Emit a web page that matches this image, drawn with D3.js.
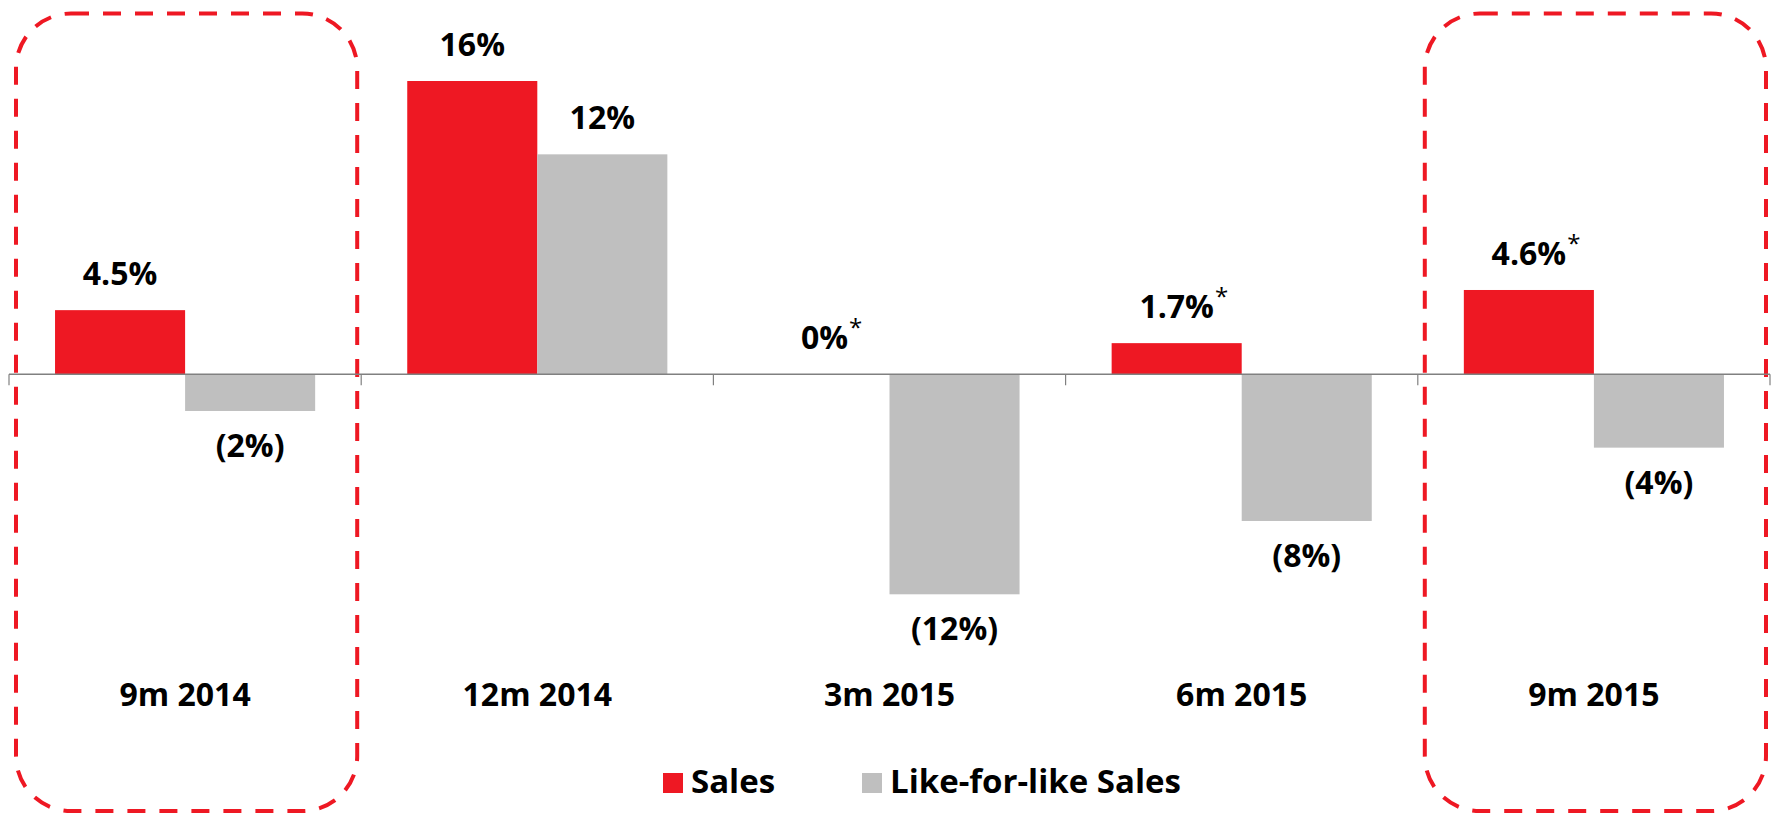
<!DOCTYPE html>
<html>
<head>
<meta charset="utf-8">
<script src="https://cdn.jsdelivr.net/npm/d3@7/dist/d3.min.js"></script>
<style>
  html, body { margin: 0; padding: 0; background: #ffffff; }
  svg { display: block; }
  text { font-family: "Open Sans", "Noto Sans", sans-serif; }
</style>
</head>
<body>
<svg id="chart" width="1773" height="814"></svg>
<script>
// ---- data ----
const categories = ["9m 2014", "12m 2014", "3m 2015", "6m 2015", "9m 2015"];
const seriesNames = ["Sales", "Like-for-like Sales"];
const salesValues = [3.5, 16, 0, 1.7, 4.6];
const lflValues = [-2, 12, -12, -8, -4];
const salesLabels = ["4.5%", "16%", "0%", "1.7%", "4.6%"];
const salesStars = [false, false, true, true, true];
const lflLabels = ["(2%)", "12%", "(12%)", "(8%)", "(4%)"];
const highlighted = ["9m 2014", "9m 2015"];

const RED = "#EE1823";
const GREY = "#BFBFBF";

const svg = d3.select("#chart");

const x0 = d3.scaleBand().domain(categories).range([9, 1770]).paddingInner(0).paddingOuter(0);
const x1 = d3.scaleBand().domain(seriesNames).range([0, x0.bandwidth()]).paddingInner(0).paddingOuter(0.354);
const y = d3.scaleLinear().domain([-12, 16]).range([594.3, 81]);

const color = d3.scaleOrdinal().domain(seriesNames).range([RED, GREY]);

const rows = categories.map((c, i) => ({
  cat: c,
  bars: [
    { s: seriesNames[0], v: salesValues[i], label: salesLabels[i], star: salesStars[i] },
    { s: seriesNames[1], v: lflValues[i], label: lflLabels[i], star: false }
  ]
}));

// highlight boxes
svg.append("g").selectAll("rect")
  .data(highlighted)
  .join("rect")
  .attr("x", d => x0(d) + 7)
  .attr("y", 13.5)
  .attr("width", x0.step() - 11)
  .attr("height", 797.5)
  .attr("rx", 55).attr("ry", 55)
  .attr("fill", "none")
  .attr("stroke", RED)
  .attr("stroke-width", 4)
  .attr("stroke-dasharray", "18,14");

// bars
const groups = svg.append("g").selectAll("g")
  .data(rows)
  .join("g")
  .attr("transform", d => `translate(${x0(d.cat)},0)`);

groups.selectAll("rect")
  .data(d => d.bars)
  .join("rect")
  .attr("x", d => x1(d.s))
  .attr("width", x1.bandwidth())
  .attr("y", d => Math.min(y(d.v), y(0)))
  .attr("height", d => Math.abs(y(d.v) - y(0)))
  .attr("fill", d => color(d.s));

// axis line at zero with ticks at band boundaries
const axisG = svg.append("g");
axisG.append("line")
  .attr("x1", x0.range()[0]).attr("x2", x0.range()[1])
  .attr("y1", y(0)).attr("y2", y(0))
  .attr("stroke", "#808080").attr("stroke-width", 1.5);
const boundaries = categories.map(c => x0(c)).concat([x0.range()[1]]);
axisG.selectAll("line.tick")
  .data(boundaries)
  .join("line")
  .attr("class", "tick")
  .attr("x1", d => d).attr("x2", d => d)
  .attr("y1", y(0)).attr("y2", y(0) + 11)
  .attr("stroke", "#808080").attr("stroke-width", 1.2);

// value labels
const labels = groups.selectAll("text.val")
  .data(d => d.bars)
  .join("text")
  .attr("class", "val")
  .attr("x", d => x1(d.s) + x1.bandwidth() / 2)
  .attr("y", d => d.v >= 0 ? y(d.v) - 25 : y(d.v) + 46)
  .attr("text-anchor", "middle")
  .attr("font-size", 32)
  .attr("font-weight", 700)
  .attr("fill", "#000")
  .text(d => d.label);

labels.each(function(d) {
  if (!d.star) return;
  const bb = this.getBBox();
  d3.select(this.parentNode).append("text")
    .attr("x", bb.x + bb.width + 1)
    .attr("y", (d.v >= 0 ? y(d.v) - 25 : y(d.v) + 46) - 13)
    .attr("font-size", 24)
    .attr("font-weight", 400)
    .attr("fill", "#000")
    .text("*");
});

// category labels
svg.append("g").selectAll("text")
  .data(categories)
  .join("text")
  .attr("x", d => x0(d) + x0.bandwidth() / 2)
  .attr("y", 706)
  .attr("text-anchor", "middle")
  .attr("font-size", 32)
  .attr("font-weight", 700)
  .attr("fill", "#000")
  .text(d => d);

// legend
const legendX = [663, 862];
const legend = svg.append("g").selectAll("g")
  .data(seriesNames)
  .join("g")
  .attr("transform", (d, i) => `translate(${legendX[i]},773)`);
legend.append("rect")
  .attr("width", 20).attr("height", 20)
  .attr("fill", d => color(d));
legend.append("text")
  .attr("x", 28).attr("y", 20)
  .attr("font-size", 33)
  .attr("font-weight", 700)
  .attr("fill", "#000")
  .text(d => d);
</script>
</body>
</html>
